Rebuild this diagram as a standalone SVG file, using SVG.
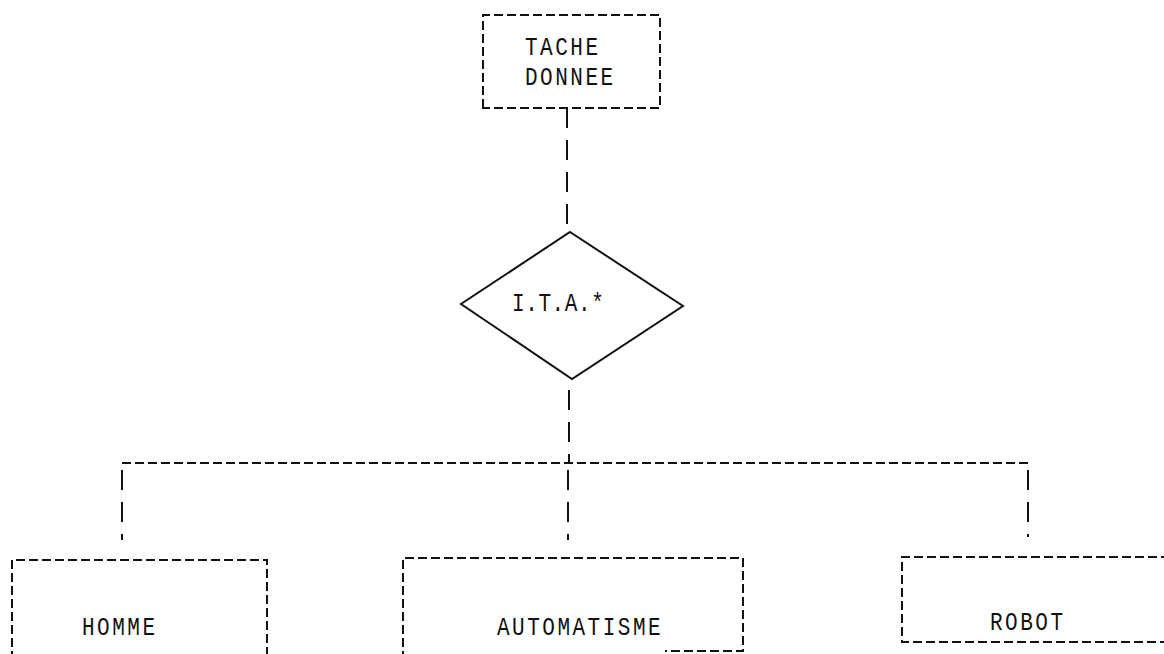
<svg xmlns="http://www.w3.org/2000/svg" width="1164" height="654" viewBox="0 0 1164 654">
<style>
.d{fill:none;stroke:#111;stroke-width:2;stroke-dasharray:9 4}
.v{fill:none;stroke:#111;stroke-width:2;stroke-dasharray:20 12}
.s{fill:#fff;stroke:#111;stroke-width:2}
.t{font-family:"Liberation Mono","DejaVu Sans Mono",monospace;font-size:21px;fill:#111;letter-spacing:2.5px}
</style>
<rect width="1164" height="654" fill="#fff"/>
<g id="connectors">
<line class="v" x1="567" y1="108" x2="567" y2="230"/>
<line class="v" x1="569" y1="390" x2="569" y2="462"/>
<line class="d" x1="122" y1="463" x2="1028" y2="463"/>
<line class="v" x1="568" y1="470" x2="568" y2="540"/>
<line class="v" x1="122" y1="470" x2="122" y2="540"/>
<line class="v" x1="1028" y1="470" x2="1028" y2="537"/>
</g>
<g id="tache">
<path class="d" d="M483,108 V15 H660 V108 Z"/>
<text class="t" transform="translate(525,55) scale(1,1.25)">TACHE</text>
<text class="t" transform="translate(525,85) scale(1,1.25)">DONNEE</text>
</g>
<g id="ita">
<polygon class="s" points="570,232 683,306 572,379 461,304"/>
<text class="t" transform="translate(512,311) scale(1,1.25)" style="letter-spacing:0.6px">I.T.A.*</text>
</g>
<g id="homme">
<path class="d" d="M12,660 V560 H267 V660"/>
<text class="t" transform="translate(82,635) scale(1,1.25)">HOMME</text>
</g>
<g id="automatisme">
<path class="d" d="M403,660 V558 H743 V651 H665"/>
<text class="t" transform="translate(497,635) scale(1,1.25)">AUTOMATISME</text>
</g>
<g id="robot">
<path class="d" d="M1170,557 H902 V642 H1170"/>
<text class="t" transform="translate(990,630) scale(1,1.25)">ROBOT</text>
</g>
</svg>
